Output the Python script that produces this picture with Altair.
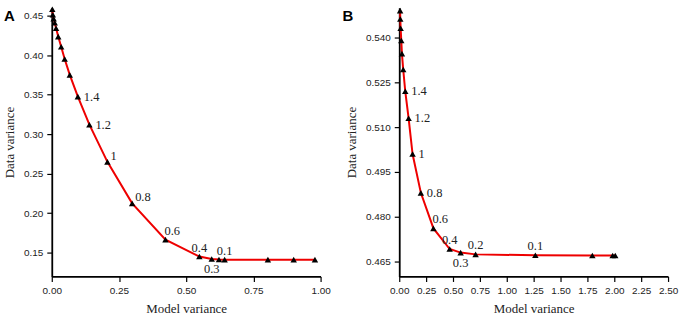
import altair as alt
import pandas as pd

# ---------------- Panel A ----------------
a_model = [0.002, 0.004, 0.007, 0.011, 0.016, 0.024, 0.035, 0.048, 0.067, 0.097,
           0.140, 0.207, 0.299, 0.423, 0.549, 0.595, 0.622, 0.643, 0.804, 0.900, 0.979]
a_data = [0.458, 0.451, 0.446, 0.441, 0.434, 0.4234, 0.4105, 0.395, 0.375, 0.3475,
          0.312, 0.265, 0.2125, 0.1666, 0.1452, 0.1421, 0.1415, 0.1413, 0.1413, 0.1413, 0.1413]
a_labels = ["", "", "", "", "", "", "", "", "", "1.4",
            "1.2", "1", "0.8", "0.6", "0.4", "0.3", "", "0.1", "", "", ""]
a_xticks = [0.0, 0.25, 0.5, 0.75, 1.0]
a_yticks = [0.15, 0.20, 0.25, 0.30, 0.35, 0.40, 0.45]

# ---------------- Panel B ----------------
b_model = [0.008, 0.010, 0.013, 0.019, 0.025, 0.037, 0.056, 0.087, 0.124, 0.201,
           0.318, 0.469, 0.571, 0.710, 1.266, 1.796, 1.985, 2.009]
b_data = [0.549, 0.5462, 0.5431, 0.539, 0.5346, 0.5293, 0.522, 0.513, 0.501, 0.488,
          0.4761, 0.4692, 0.468, 0.4674, 0.4671, 0.4670, 0.4670, 0.4670]
b_labels = ["", "", "", "", "", "", "1.4", "1.2", "1", "0.8",
            "0.6", "0.4", "0.3", "0.2", "0.1", "", "", ""]
b_xticks = [0.0, 0.25, 0.5, 0.75, 1.0, 1.25, 1.5, 1.75, 2.0, 2.25, 2.5]
b_yticks = [0.465, 0.480, 0.495, 0.510, 0.525, 0.540]

panel_letters = ["A", "B"]

# label placement styles: (align, dx, dy)
STYLES = {
    "right": ("left", 6, 0),
    "rightup": ("left", 3, -6),
    "upleft": ("left", -1, -9),
    "above": ("center", 0, -9),
    "below": ("center", 0, 10),
}
a_place = {"1.4": "right", "1.2": "right", "1": "rightup", "0.8": "rightup",
           "0.6": "upleft", "0.4": "above", "0.3": "below", "0.1": "above"}
b_place = {"1.4": "right", "1.2": "right", "1": "right", "0.8": "right",
           "0.6": "upleft", "0.4": "above", "0.3": "below", "0.2": "above", "0.1": "above"}

SERIF = "Liberation Serif"
SANS = "Liberation Sans"


def panel(xs, ys, labels, place, xdom, ydom, xticks, yticks, yfmt, letter, letter_dx):
    df = pd.DataFrame({"model": xs, "data": ys, "lab": labels})
    xenc = alt.X("model:Q",
                 scale=alt.Scale(domain=xdom, nice=False, zero=False),
                 axis=alt.Axis(values=xticks, format=".2f", title="Model variance"))
    yenc = alt.Y("data:Q",
                 scale=alt.Scale(domain=ydom, nice=False, zero=False),
                 axis=alt.Axis(values=yticks, format=yfmt, title="Data variance"))
    base = alt.Chart(df).encode(x=xenc, y=yenc)
    line = base.mark_line(color="#ee0000", strokeWidth=2)
    pts = base.mark_point(shape="triangle-up", filled=True, color="black",
                          size=42, opacity=1)
    layers = [line, pts]
    for style, (align, dx, dy) in STYLES.items():
        labs = [k for k, v in place.items() if v == style]
        if not labs:
            continue
        t = base.transform_filter(
            alt.FieldOneOfPredicate(field="lab", oneOf=labs)
        ).mark_text(align=align, baseline="middle", dx=dx, dy=dy,
                    font=SERIF, fontSize=12.5, color="#222").encode(text="lab:N")
        layers.append(t)
    ldf = pd.DataFrame({"letter": [letter]})
    let = alt.Chart(ldf).mark_text(align="left", baseline="alphabetic",
                                   font=SANS, fontSize=15, fontWeight="bold",
                                   color="black").encode(
        x=alt.value(letter_dx), y=alt.value(13), text="letter:N")
    layers.append(let)
    return alt.layer(*layers).properties(width=270, height=270)


pa = panel(a_model, a_data, a_labels, a_place, [0, 1], [0.12, 0.46],
           a_xticks, a_yticks, ".2f", panel_letters[0], -48)
pb = panel(b_model, b_data, b_labels, b_place, [0, 2.5], [0.46, 0.55],
           b_xticks, b_yticks, ".3f", panel_letters[1], -57)

chart = alt.hconcat(pa, pb, spacing=12).properties(
    padding={"left": 3, "top": 4, "right": 2, "bottom": 0}
).configure_view(strokeWidth=0).configure_axis(
    grid=False, labelFlush=False,
    domainColor="black", domainWidth=1.8,
    tickColor="black", tickWidth=1.2, tickSize=5,
    labelFont=SANS, labelFontSize=10, labelColor="#222", labelPadding=4,
    titleFont=SERIF, titleFontSize=13, titleFontWeight="normal", titleColor="#222",
    titlePadding=7,
)

chart.save("out.html", embed_options={"renderer": "svg", "actions": False})
